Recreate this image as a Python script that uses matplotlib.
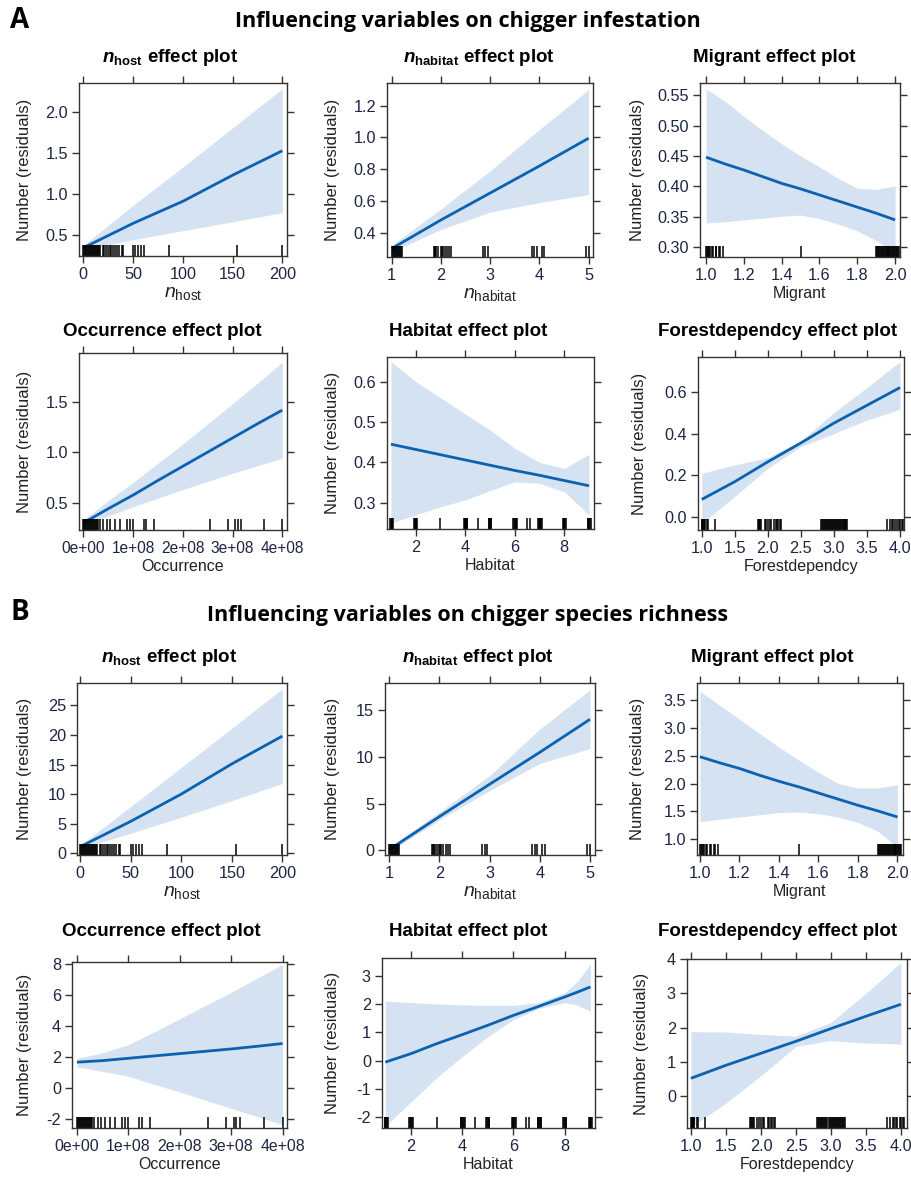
import matplotlib
matplotlib.use('Agg')
import matplotlib.pyplot as plt

plt.rcParams['font.family'] = ['Liberation Sans', 'DejaVu Sans']
plt.rcParams['mathtext.fontset'] = 'custom'
plt.rcParams['mathtext.rm'] = 'Liberation Sans'
plt.rcParams['mathtext.it'] = 'Liberation Sans:italic'
plt.rcParams['mathtext.bf'] = 'Liberation Sans:bold:italic'
plt.rcParams['mathtext.sf'] = 'Liberation Sans:bold'

# ---------------- data: A (chigger infestation) ----------------
nhost_x = [0, 50, 100, 150, 200]
A_nhost_fit = [0.34, 0.64, 0.91, 1.23, 1.53]
A_nhost_lo = [0.32, 0.44, 0.55, 0.66, 0.77]
A_nhost_hi = [0.37, 0.86, 1.33, 1.81, 2.29]

nhab_x = [1, 2, 3, 4, 5]
A_nhab_fit = [0.30, 0.48, 0.65, 0.82, 0.995]
A_nhab_lo = [0.28, 0.42, 0.53, 0.59, 0.64]
A_nhab_hi = [0.32, 0.55, 0.79, 1.05, 1.30]

migr_x = [1.0, 1.1, 1.2, 1.3, 1.4, 1.5, 1.6, 1.7, 1.8, 1.9, 2.0]
A_migr_fit = [0.448, 0.437, 0.427, 0.416, 0.405, 0.396, 0.386, 0.376, 0.366, 0.356, 0.345]
A_migr_lo = [0.340, 0.342, 0.345, 0.348, 0.351, 0.353, 0.347, 0.338, 0.327, 0.311, 0.290]
A_migr_hi = [0.560, 0.540, 0.515, 0.492, 0.470, 0.450, 0.432, 0.413, 0.397, 0.395, 0.401]

occ_x = [0, 0.5e8, 1e8, 1.5e8, 2e8, 2.5e8, 3e8, 3.5e8, 4e8]
A_occ_fit = [0.30, 0.44, 0.575, 0.72, 0.86, 1.00, 1.14, 1.28, 1.415]
A_occ_lo = [0.28, 0.37, 0.46, 0.545, 0.63, 0.71, 0.79, 0.865, 0.94]
A_occ_hi = [0.33, 0.52, 0.70, 0.89, 1.08, 1.28, 1.48, 1.68, 1.89]

hab_x = [1, 2, 3, 4, 5, 6, 7, 8, 9]
A_hab_fit = [0.445, 0.432, 0.419, 0.406, 0.393, 0.380, 0.368, 0.355, 0.342]
A_hab_lo = [0.250, 0.270, 0.290, 0.307, 0.330, 0.352, 0.348, 0.327, 0.270]
A_hab_hi = [0.650, 0.600, 0.560, 0.520, 0.480, 0.435, 0.400, 0.385, 0.420]

for_x = [1.0, 1.5, 2.0, 2.5, 3.0, 3.5, 4.0]
A_for_fit = [0.085, 0.17, 0.265, 0.355, 0.45, 0.535, 0.62]
A_for_lo = [-0.03, 0.10, 0.234, 0.338, 0.40, 0.465, 0.516]
A_for_hi = [0.21, 0.25, 0.285, 0.365, 0.50, 0.62, 0.744]

# ---------------- data: B (chigger species richness) ----------------
B_nhost_fit = [1.2, 5.4, 10.0, 15.1, 19.8]
B_nhost_lo = [0.9, 3.4, 6.1, 8.9, 11.8]
B_nhost_hi = [1.5, 7.9, 14.5, 21.1, 27.8]

B_nhab_fit = [0.05, 3.6, 7.07, 10.5, 14.04]
B_nhab_lo = [-0.2, 3.25, 6.4, 9.3, 10.9]
B_nhab_hi = [0.3, 4.1, 8.0, 13.0, 17.2]

B_migr_fit = [2.48, 2.37, 2.27, 2.15, 2.04, 1.94, 1.83, 1.72, 1.61, 1.51, 1.40]
B_migr_lo = [1.32, 1.36, 1.40, 1.44, 1.48, 1.49, 1.46, 1.40, 1.30, 1.15, 0.85]
B_migr_hi = [3.65, 3.40, 3.15, 2.90, 2.65, 2.42, 2.20, 2.00, 1.92, 1.92, 1.98]

B_occ_fit = [1.65, 1.75, 1.90, 2.05, 2.20, 2.35, 2.50, 2.67, 2.85]
B_occ_lo = [1.35, 1.05, 0.75, 0.22, -0.27, -0.80, -1.33, -1.85, -2.38]
B_occ_hi = [1.90, 2.25, 2.78, 3.60, 4.45, 5.30, 6.15, 7.05, 7.94]

habB_x = [1, 2, 3, 4, 5, 6, 7, 8, 8.5, 9]
B_hab_fit = [-0.05, 0.25, 0.60, 0.92, 1.25, 1.60, 1.92, 2.25, 2.42, 2.60]
B_hab_lo = [-2.30, -1.45, -0.60, 0.15, 0.85, 1.45, 1.85, 2.05, 1.95, 1.75]
B_hab_hi = [2.10, 2.05, 2.00, 1.97, 1.95, 1.95, 2.05, 2.40, 2.80, 3.40]

B_for_fit = [0.52, 0.90, 1.25, 1.60, 1.97, 2.33, 2.68]
B_for_lo = [-0.90, -0.20, 0.60, 1.45, 1.62, 1.55, 1.52]
B_for_hi = [1.88, 1.87, 1.80, 1.75, 2.15, 3.00, 3.90]

# ---------------- rug (observed predictor values) ----------------
rug_nhost = [0, 1, 2, 3, 4, 5, 6, 7, 8, 9, 10, 11, 12, 13, 14, 15, 16, 17,
             20, 21, 23, 25, 27, 28, 30, 32, 34, 36, 39, 40, 50, 52, 55, 58, 61, 86, 154, 200]
rug_nhab = [1.0, 1.02, 1.04, 1.06, 1.08, 1.1, 1.12, 1.14, 1.16, 1.18, 1.2,
            1.85, 1.87, 1.89, 1.91, 1.95, 2.0, 2.02, 2.04, 2.08, 2.12, 2.16, 2.2,
            2.85, 2.9, 2.95, 3.85, 3.9, 3.95, 4.05, 4.1, 4.95, 5.0]
rug_migr = [1.0, 1.005, 1.01, 1.015, 1.02, 1.03, 1.035, 1.05, 1.055, 1.07, 1.075, 1.09,
            1.5, 1.9, 1.905, 1.91, 1.915, 1.92, 1.925, 1.93, 1.935, 1.94, 1.945, 1.95,
            1.955, 1.96, 1.965, 1.97, 1.975, 1.98, 1.985, 1.99, 1.995, 2.0, 2.005, 2.01, 2.015, 2.02]
rug_occ = [0, 0.02e8, 0.04e8, 0.06e8, 0.08e8, 0.1e8, 0.12e8, 0.14e8, 0.16e8, 0.18e8, 0.2e8,
           0.22e8, 0.24e8, 0.26e8, 0.28e8, 0.3e8, 0.335e8, 0.4e8, 0.47e8, 0.54e8, 0.64e8, 0.74e8,
           0.87e8, 0.94e8, 1.0e8, 1.21e8, 1.27e8, 1.42e8, 2.55e8, 2.9e8, 3.05e8, 3.1e8, 3.18e8,
           3.64e8, 4.0e8]
rug_hab = [0.97, 1.0, 1.03, 1.06, 1.09, 1.94, 1.97, 2.0, 2.03, 2.06, 3.0, 3.94, 3.97, 4.0, 4.03,
           4.06, 4.09, 4.5, 4.94, 4.97, 5.0, 5.03, 5.06, 5.94, 5.97, 6.0, 6.03, 6.06, 6.09,
           6.5, 6.6, 6.94, 6.97, 7.0, 7.03, 7.06, 7.09, 7.94, 7.97, 8.0, 8.03, 8.06,
           8.94, 8.97, 9.0, 9.03, 9.06]
rug_for = [1.0, 1.01, 1.02, 1.03, 1.04, 1.05, 1.08, 1.1, 1.2, 1.85, 1.86, 1.87, 1.88, 1.9,
           1.95, 1.97, 2.0, 2.03, 2.05, 2.1, 2.12, 2.14, 2.16, 2.18, 2.2,
           2.8, 2.815, 2.83, 2.845, 2.86, 2.875, 2.89, 2.905, 2.92, 2.935, 2.95, 2.965, 2.98,
           2.995, 3.01, 3.025, 3.04, 3.055, 3.07, 3.085, 3.1, 3.115, 3.13, 3.145, 3.16, 3.175,
           3.19, 3.2, 3.8, 3.85, 3.88, 3.9, 3.93, 3.95, 3.98, 4.0, 4.03, 4.05]

# ---------------- tick labels ----------------
nhost_ticks = [0, 50, 100, 150, 200]
nhab_ticks = [1, 2, 3, 4, 5]
migr_ticks = [1.0, 1.2, 1.4, 1.6, 1.8, 2.0]
occ_ticks = [0, 1e8, 2e8, 3e8, 4e8]
occ_ticklabels = ['0e+00', '1e+08', '2e+08', '3e+08', '4e+08']
hab_ticks = [2, 4, 6, 8]
for_ticks = [1.0, 1.5, 2.0, 2.5, 3.0, 3.5, 4.0]

W, H = 912, 1185
fig = plt.figure(figsize=(W / 100, H / 100), dpi=100)

LINE = '#0b62b0'
BAND = '#d4e2f1'
TICKC = '#1d2642'
TEXTC = '#222222'


def fmt(vals, nd):
    return [f'{v:.{nd}f}' for v in vals]


def panel(box, x, fit, lo, hi, rug, xlim, ylim, xt, xtl, yt, ytl, title, xlabel, tx, ty, yx,
          xlsize=11.5, xtsize=11.7):
    l, t, r, b = box
    ax = fig.add_axes([l / W, 1 - b / H, (r - l) / W, (b - t) / H])
    ax.fill_between(x, lo, hi, color=BAND, lw=0)
    ax.plot(x, fit, color=LINE, lw=2, solid_capstyle='butt')
    rug_h = 11.0 / (b - t)
    ax.vlines(rug, 0, rug_h, transform=ax.get_xaxis_transform(), color='black', lw=1.1)
    ax.set_xlim(*xlim)
    ax.set_ylim(*ylim)
    ax.set_xticks(xt)
    ax.set_xticklabels(xtl)
    ax.set_yticks(yt)
    ax.set_yticklabels(ytl)
    ax.tick_params(direction='out', length=5, width=1, top=True, right=True,
                   labeltop=False, labelright=False, labelsize=11.7,
                   color='#333333', labelcolor=TICKC, pad=3)
    ax.tick_params(axis='x', labelsize=xtsize)
    for s in ax.spines.values():
        s.set_linewidth(1.0)
        s.set_color('#333333')
    fig.text(tx / W, 1 - ty / H, title, ha='center', va='center', fontsize=13.5,
             fontweight='bold', color='black')
    fig.text(yx / W, 1 - (t + b) / 2 / H, 'Number (residuals)', rotation=90,
             ha='center', va='center', fontsize=12, color=TEXTC)
    ax.set_xlabel(xlabel, fontsize=xlsize, color=TEXTC, labelpad=2)
    return ax


t_nhost = r'$\mathbf{n}_{\mathsf{host}}$ effect plot'
t_nhab = r'$\mathbf{n}_{\mathsf{habitat}}$ effect plot'
x_nhost = r'$n_{\mathrm{host}}$'
x_nhab = r'$n_{\mathrm{habitat}}$'

# ---- Section A ----
fig.text(20 / W, 1 - 20 / H, 'A', ha='center', va='center', fontsize=20,
         fontweight='bold', family=['Open Sans', 'DejaVu Sans'])
fig.text(468 / W, 1 - 22 / H, 'Influencing variables on chigger infestation', ha='center',
         va='center', fontsize=15.5, fontweight='bold', family=['Open Sans', 'DejaVu Sans'])

panel((79, 83, 287, 256), nhost_x, A_nhost_fit, A_nhost_lo, A_nhost_hi, rug_nhost,
      (-4.3, 204.7), (0.24, 2.36), nhost_ticks, [str(v) for v in nhost_ticks],
      [0.5, 1.0, 1.5, 2.0], fmt([0.5, 1.0, 1.5, 2.0], 1), t_nhost, x_nhost, 170, 58, 25, 14)
panel((387, 83, 593, 257), nhab_x, A_nhab_fit, A_nhab_lo, A_nhab_hi, rug_nhab,
      (0.905, 5.09), (0.247, 1.343), nhab_ticks, [str(v) for v in nhab_ticks],
      [0.4, 0.6, 0.8, 1.0, 1.2], fmt([0.4, 0.6, 0.8, 1.0, 1.2], 1), t_nhab, x_nhab, 479, 58, 332, 14)
panel((700, 83, 900, 257), migr_x, A_migr_fit, A_migr_lo, A_migr_hi, rug_migr,
      (0.968, 2.026), (0.284, 0.570), migr_ticks, fmt(migr_ticks, 1),
      [0.30, 0.35, 0.40, 0.45, 0.50, 0.55], fmt([0.30, 0.35, 0.40, 0.45, 0.50, 0.55], 2),
      'Migrant effect plot', 'Migrant', 774, 58, 638)
panel((79, 353, 287, 530), occ_x, A_occ_fit, A_occ_lo, A_occ_hi, rug_occ,
      (-0.087e8, 4.095e8), (0.23, 1.98), occ_ticks, occ_ticklabels,
      [0.5, 1.0, 1.5], fmt([0.5, 1.0, 1.5], 1), 'Occurrence effect plot', 'Occurrence', 162, 332, 25,
      11.5, 11.2)
panel((387, 357, 594, 529), hab_x, A_hab_fit, A_hab_lo, A_hab_hi, rug_hab,
      (0.84, 9.2), (0.235, 0.661), hab_ticks, [str(v) for v in hab_ticks],
      [0.3, 0.4, 0.5, 0.6], fmt([0.3, 0.4, 0.5, 0.6], 1), 'Habitat effect plot', 'Habitat', 468, 332, 332)
panel((698, 357, 904, 530), for_x, A_for_fit, A_for_lo, A_for_hi, rug_for,
      (0.944, 4.06), (-0.061, 0.766), for_ticks, fmt(for_ticks, 1),
      [0.0, 0.2, 0.4, 0.6], fmt([0.0, 0.2, 0.4, 0.6], 1), 'Forestdependcy effect plot',
      'Forestdependcy', 778, 332, 640)

# ---- Section B ----
fig.text(20 / W, 1 - 612 / H, 'B', ha='center', va='center', fontsize=20,
         fontweight='bold', family=['Open Sans', 'DejaVu Sans'])
fig.text(468 / W, 1 - 615 / H, 'Influencing variables on chigger species richness', ha='center',
         va='center', fontsize=15.5, fontweight='bold', family=['Open Sans', 'DejaVu Sans'])

panel((77, 683, 287, 855), [1, 50, 100, 150, 200], B_nhost_fit, B_nhost_lo, B_nhost_hi, rug_nhost,
      (-3, 204.6), (-0.27, 28.76), nhost_ticks, [str(v) for v in nhost_ticks],
      [0, 5, 10, 15, 20, 25], ['0', '5', '10', '15', '20', '25'], t_nhost, x_nhost, 169, 658, 25, 14)
panel((385, 683, 595, 855), nhab_x, B_nhab_fit, B_nhab_lo, B_nhab_hi, rug_nhab,
      (0.914, 5.1), (-0.53, 17.94), nhab_ticks, [str(v) for v in nhab_ticks],
      [0, 5, 10, 15], ['0', '5', '10', '15'], t_nhab, x_nhab, 478, 658, 332, 14)
panel((697, 683, 903, 855), migr_x, B_migr_fit, B_migr_lo, B_migr_hi, rug_migr,
      (0.985, 2.028), (0.72, 3.80), migr_ticks, fmt(migr_ticks, 1),
      [1.0, 1.5, 2.0, 2.5, 3.0, 3.5], fmt([1.0, 1.5, 2.0, 2.5, 3.0, 3.5], 1),
      'Migrant effect plot', 'Migrant', 772, 658, 638)
panel((72, 962, 287, 1128), occ_x, B_occ_fit, B_occ_lo, B_occ_hi, rug_occ,
      (-0.097e8, 4.085e8), (-2.59, 8.1), occ_ticks, occ_ticklabels,
      [-2, 0, 2, 4, 6, 8], ['-2', '0', '2', '4', '6', '8'], 'Occurrence effect plot',
      'Occurrence', 161, 932, 25, 11.5, 11.4)
panel((382, 958, 595, 1128), habB_x, B_hab_fit, B_hab_lo, B_hab_hi, rug_hab,
      (0.87, 9.18), (-2.37, 3.62), hab_ticks, [str(v) for v in hab_ticks],
      [-2, -1, 0, 1, 2, 3], ['-2', '-1', '0', '1', '2', '3'], 'Habitat effect plot',
      'Habitat', 468, 932, 332)
panel((687, 959, 907, 1128), for_x, B_for_fit, B_for_lo, B_for_hi, rug_for,
      (0.943, 4.086), (-0.93, 4.0), for_ticks, fmt(for_ticks, 1),
      [0, 1, 2, 3, 4], ['0', '1', '2', '3', '4'], 'Forestdependcy effect plot',
      'Forestdependcy', 778, 932, 642)

fig.savefig('out.png', dpi=100)
